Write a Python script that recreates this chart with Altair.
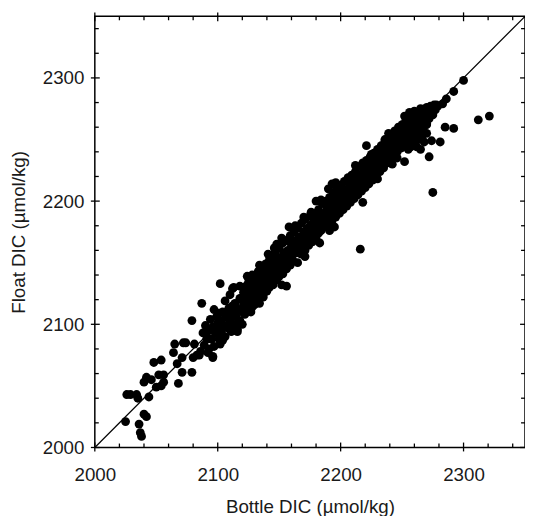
import altair as alt
import pandas as pd

# ---------------- data ----------------
# sparse low-concentration points
low_bottle = [2025, 2026, 2029, 2034, 2035, 2036, 2037, 2038, 2040, 2042, 2040, 2042, 2044,
              2046, 2048, 2050, 2054, 2056, 2052, 2054, 2056, 2065, 2064, 2067, 2068, 2071,
              2071, 2072, 2074, 2079, 2080, 2083, 2081, 2085, 2086, 2087, 2079, 2092, 2092,
              2096, 2102, 2104, 2096]
low_float = [2021, 2043, 2043, 2043, 2040, 2019, 2012, 2009, 2027, 2025, 2053, 2057, 2041,
             2055, 2069, 2049, 2071, 2059, 2059, 2050, 2053, 2084, 2077, 2068, 2052, 2061,
             2073, 2085, 2085, 2061, 2073, 2075, 2084, 2075, 2078, 2117, 2103, 2089, 2077,
             2073, 2084, 2087, 2074]

# outliers around the main band
out_bottle = [2300, 2292, 2286, 2283, 2278, 2312, 2321, 2285, 2292, 2274, 2281, 2272, 2252,
              2242, 2230, 2275, 2221, 2216, 2218, 2195, 2191, 2183, 2171, 2156, 2152, 2137,
              2128, 2116, 2102, 2113, 2108]
out_float = [2298, 2289, 2283, 2279, 2278, 2266, 2269, 2260, 2259, 2249, 2248, 2236, 2232,
             2230, 2218, 2207, 2245, 2161, 2199, 2179, 2176, 2166, 2155, 2131, 2132, 2124,
             2114, 2094, 2133, 2095, 2099]

# main band 2088-2120
a_bottle = [2088, 2089, 2090, 2091, 2093, 2093, 2094, 2095, 2096, 2097, 2098, 2099, 2100, 2101,
            2102, 2103, 2104, 2105, 2106, 2107, 2108, 2109, 2110, 2111, 2112, 2113, 2114, 2115,
            2116, 2117, 2118, 2119, 2120, 2120, 2097, 2101, 2106, 2110, 2113, 2112]
a_float = [2093, 2083, 2099, 2088, 2080, 2095, 2104, 2088, 2098, 2082, 2093, 2106, 2097, 2088,
           2103, 2094, 2110, 2099, 2090, 2106, 2097, 2113, 2103, 2094, 2109, 2100, 2117, 2106,
           2096, 2112, 2103, 2121, 2110, 2100, 2112, 2109, 2119, 2124, 2130, 2129]

# main band 2121-2160
b_bottle = [2121, 2121, 2122, 2123, 2123, 2124, 2125, 2125, 2126, 2127, 2127, 2128, 2128, 2129,
            2130, 2130, 2131, 2132, 2132, 2133, 2134, 2134, 2135, 2136, 2136, 2137, 2138, 2138,
            2139, 2140, 2140, 2141, 2142, 2142, 2143, 2144, 2144, 2145, 2146, 2146, 2147, 2148,
            2148, 2149, 2150, 2150, 2151, 2152, 2153, 2153, 2154, 2155, 2156, 2156, 2157, 2158,
            2159, 2159, 2160, 2160, 2141, 2148, 2152, 2146, 2134, 2128, 2124, 2118]
b_float = [2116, 2126, 2108, 2120, 2131, 2113, 2124, 2134, 2117, 2128, 2110, 2121, 2136, 2131,
           2116, 2125, 2138, 2121, 2130, 2143, 2126, 2117, 2136, 2129, 2146, 2122, 2139, 2132,
           2149, 2127, 2142, 2135, 2152, 2130, 2145, 2138, 2156, 2132, 2148, 2141, 2158, 2136,
           2151, 2144, 2162, 2139, 2154, 2147, 2166, 2141, 2158, 2150, 2168, 2145, 2160, 2153,
           2172, 2148, 2163, 2156, 2157, 2165, 2170, 2162, 2148, 2140, 2139, 2131]

# main band 2161-2200
c_bottle = [2161, 2161, 2162, 2163, 2164, 2165, 2165, 2166, 2167, 2168, 2168, 2169, 2170, 2171,
            2171, 2172, 2173, 2174, 2175, 2175, 2176, 2177, 2178, 2178, 2179, 2180, 2181, 2182,
            2182, 2183, 2184, 2185, 2185, 2186, 2187, 2188, 2188, 2189, 2190, 2191, 2191, 2192,
            2193, 2194, 2194, 2195, 2196, 2197, 2197, 2198, 2199, 2200, 2200, 2158, 2163, 2170,
            2176, 2180, 2184, 2190, 2193, 2196]
c_float = [2152, 2168, 2175, 2158, 2166, 2150, 2178, 2162, 2171, 2157, 2182, 2166, 2175, 2160,
           2185, 2169, 2178, 2164, 2188, 2172, 2181, 2167, 2176, 2190, 2184, 2170, 2179, 2193,
           2174, 2186, 2176, 2198, 2182, 2190, 2179, 2200, 2186, 2194, 2181, 2203, 2189, 2197,
           2184, 2207, 2192, 2200, 2187, 2210, 2196, 2204, 2190, 2213, 2199, 2179, 2180, 2187,
           2191, 2200, 2201, 2210, 2214, 2215]

# main band 2201-2240
d_bottle = [2201, 2202, 2203, 2203, 2204, 2205, 2206, 2206, 2207, 2208, 2209, 2209, 2210, 2211,
            2212, 2212, 2213, 2214, 2215, 2215, 2216, 2217, 2218, 2218, 2219, 2220, 2221, 2221,
            2222, 2223, 2224, 2224, 2225, 2226, 2227, 2227, 2228, 2229, 2230, 2230, 2231, 2232,
            2233, 2233, 2234, 2235, 2236, 2236, 2237, 2238, 2239, 2239, 2240, 2240, 2212, 2225,
            2236, 2239]
d_float = [2206, 2193, 2216, 2201, 2209, 2196, 2219, 2204, 2212, 2199, 2221, 2207, 2215, 2202,
           2224, 2210, 2218, 2205, 2228, 2213, 2221, 2208, 2231, 2216, 2224, 2211, 2233, 2219,
           2227, 2214, 2236, 2222, 2230, 2217, 2239, 2225, 2233, 2220, 2242, 2228, 2236, 2224,
           2245, 2231, 2239, 2227, 2248, 2234, 2242, 2231, 2251, 2237, 2245, 2233, 2229, 2238,
           2250, 2255]

# dense cluster 2241-2280
e_bottle = [2241, 2241, 2242, 2243, 2244, 2244, 2245, 2246, 2247, 2247, 2248, 2249, 2250, 2250,
            2251, 2252, 2253, 2253, 2254, 2255, 2256, 2256, 2257, 2258, 2259, 2259, 2260, 2261,
            2262, 2262, 2263, 2264, 2265, 2265, 2266, 2267, 2268, 2268, 2269, 2270, 2271, 2272,
            2274, 2275, 2277, 2279, 2262, 2265, 2268, 2266, 2270, 2260, 2257, 2252, 2256, 2260,
            2265, 2270, 2273, 2276, 2273, 2270]
e_float = [2254, 2240, 2248, 2236, 2257, 2245, 2251, 2240, 2260, 2248, 2255, 2243, 2262, 2251,
           2258, 2246, 2265, 2254, 2260, 2249, 2267, 2256, 2262, 2251, 2269, 2258, 2264, 2253,
           2270, 2260, 2266, 2256, 2271, 2262, 2267, 2258, 2272, 2264, 2268, 2262, 2273, 2267,
           2275, 2270, 2274, 2277, 2244, 2242, 2248, 2252, 2255, 2246, 2244, 2269, 2272, 2273,
           2275, 2276, 2277, 2278, 2270, 2263]

# band core (points hidden in the solid middle of the band)
f_bottle = [2100, 2103, 2106, 2109, 2112, 2115, 2118, 2121, 2124, 2127, 2130, 2133, 2136, 2139,
            2142, 2145, 2148, 2151, 2154, 2157, 2160, 2163, 2166, 2169, 2172, 2175, 2178, 2181,
            2184, 2187, 2190, 2193, 2196, 2199, 2202, 2205, 2208, 2211, 2214, 2217, 2220, 2223,
            2226, 2229, 2232, 2235, 2238, 2241, 2244, 2247, 2250, 2253, 2256, 2259, 2262, 2265,
            2268, 2263, 2258, 2267, 2255, 2246]
f_float = [2101, 2102, 2108, 2106, 2115, 2113, 2121, 2119, 2128, 2124, 2133, 2130, 2140, 2137,
           2146, 2143, 2152, 2148, 2158, 2155, 2165, 2161, 2171, 2168, 2176, 2174, 2183, 2181,
           2189, 2186, 2195, 2192, 2201, 2198, 2208, 2205, 2213, 2210, 2219, 2216, 2225, 2222,
           2232, 2229, 2238, 2236, 2243, 2245, 2250, 2253, 2256, 2258, 2261, 2263, 2265, 2268,
           2270, 2250, 2247, 2255, 2242, 2235]

# band lower side
g_bottle = [2122, 2128, 2134, 2140, 2146, 2152, 2158, 2164, 2170, 2176, 2182, 2188, 2194, 2200,
            2206, 2212, 2218, 2224, 2230, 2236, 2242, 2248]
g_float = [2117, 2122, 2129, 2134, 2141, 2146, 2152, 2158, 2164, 2170, 2177, 2182, 2188, 2195,
           2200, 2206, 2212, 2219, 2225, 2232, 2237, 2243]

one_to_one = [2000, 2350]
major_ticks = [2000, 2100, 2200, 2300]
minor_ticks = [2020, 2040, 2060, 2080, 2120, 2140, 2160, 2180,
               2220, 2240, 2260, 2280, 2320, 2340]

# ---------------- chart ----------------
W, H = 436, 437
FONT = "Liberation Sans"
TXT = "#1a1a1a"

bottle = (low_bottle + out_bottle + a_bottle + b_bottle + c_bottle + d_bottle + e_bottle
          + f_bottle + g_bottle)
flt = (low_float + out_float + a_float + b_float + c_float + d_float + e_float
       + f_float + g_float)
pts = pd.DataFrame({"bottle": bottle, "float": flt})
line_df = pd.DataFrame({"bottle": one_to_one, "float": one_to_one})
major_df = pd.DataFrame({"bottle": major_ticks, "float": major_ticks})
minor_df = pd.DataFrame({"bottle": minor_ticks, "float": minor_ticks})

xs = alt.Scale(domain=[2000, 2350], nice=False, zero=False)
ys = alt.Scale(domain=[2000, 2350], nice=False, zero=False)

x_axis = alt.Axis(values=major_ticks, format="d", title="Bottle DIC (µmol/kg)",
                  ticks=False, domain=False, grid=False, labelFlush=False,
                  labelOverlap=False, labelPadding=18, labelFontSize=19,
                  titleFontSize=19, titleFontWeight="normal", titlePadding=14,
                  labelFont=FONT, titleFont=FONT, labelColor=TXT, titleColor=TXT)
y_axis = alt.Axis(values=major_ticks, format="d", title="Float DIC (µmol/kg)",
                  ticks=False, domain=False, grid=False, labelFlush=False,
                  labelOverlap=False, labelPadding=11, labelFontSize=19,
                  titleFontSize=19, titleFontWeight="normal", titlePadding=14,
                  labelFont=FONT, titleFont=FONT, labelColor=TXT, titleColor=TXT)

X = alt.X("bottle:Q", scale=xs, axis=x_axis)
Y = alt.Y("float:Q", scale=ys, axis=y_axis)

points = alt.Chart(pts).mark_circle(size=80, color="black", opacity=1).encode(x=X, y=Y)

diag = alt.Chart(line_df).mark_line(color="black", strokeWidth=1.2).encode(x=X, y=Y)

def xticks(df, y1, y2):
    return alt.Chart(df).mark_rule(color="black", strokeWidth=1.3).encode(
        x=X, y=alt.value(y1), y2=alt.value(y2))

def yticks(df, x1, x2):
    return alt.Chart(df).mark_rule(color="black", strokeWidth=1.3).encode(
        y=Y, x=alt.value(x1), x2=alt.value(x2))

tick_layers = [
    xticks(minor_df, H, H - 4), xticks(major_df, H + 4, H - 5),
    xticks(minor_df, 0, 4), xticks(major_df, -4, 5),
    yticks(minor_df, 0, 4), yticks(major_df, -4, 5),
    yticks(minor_df, W, W - 4), yticks(major_df, W + 4, W - 5),
]

chart = alt.layer(points, diag, *tick_layers).properties(
    width=W, height=H,
    autosize=alt.AutoSizeParams(type="none"),
    padding={"left": 88, "top": 5, "right": 0, "bottom": 66},
).configure_view(stroke="black", strokeWidth=1.5)

chart.save("out.html", embed_options={"renderer": "svg", "actions": False})
